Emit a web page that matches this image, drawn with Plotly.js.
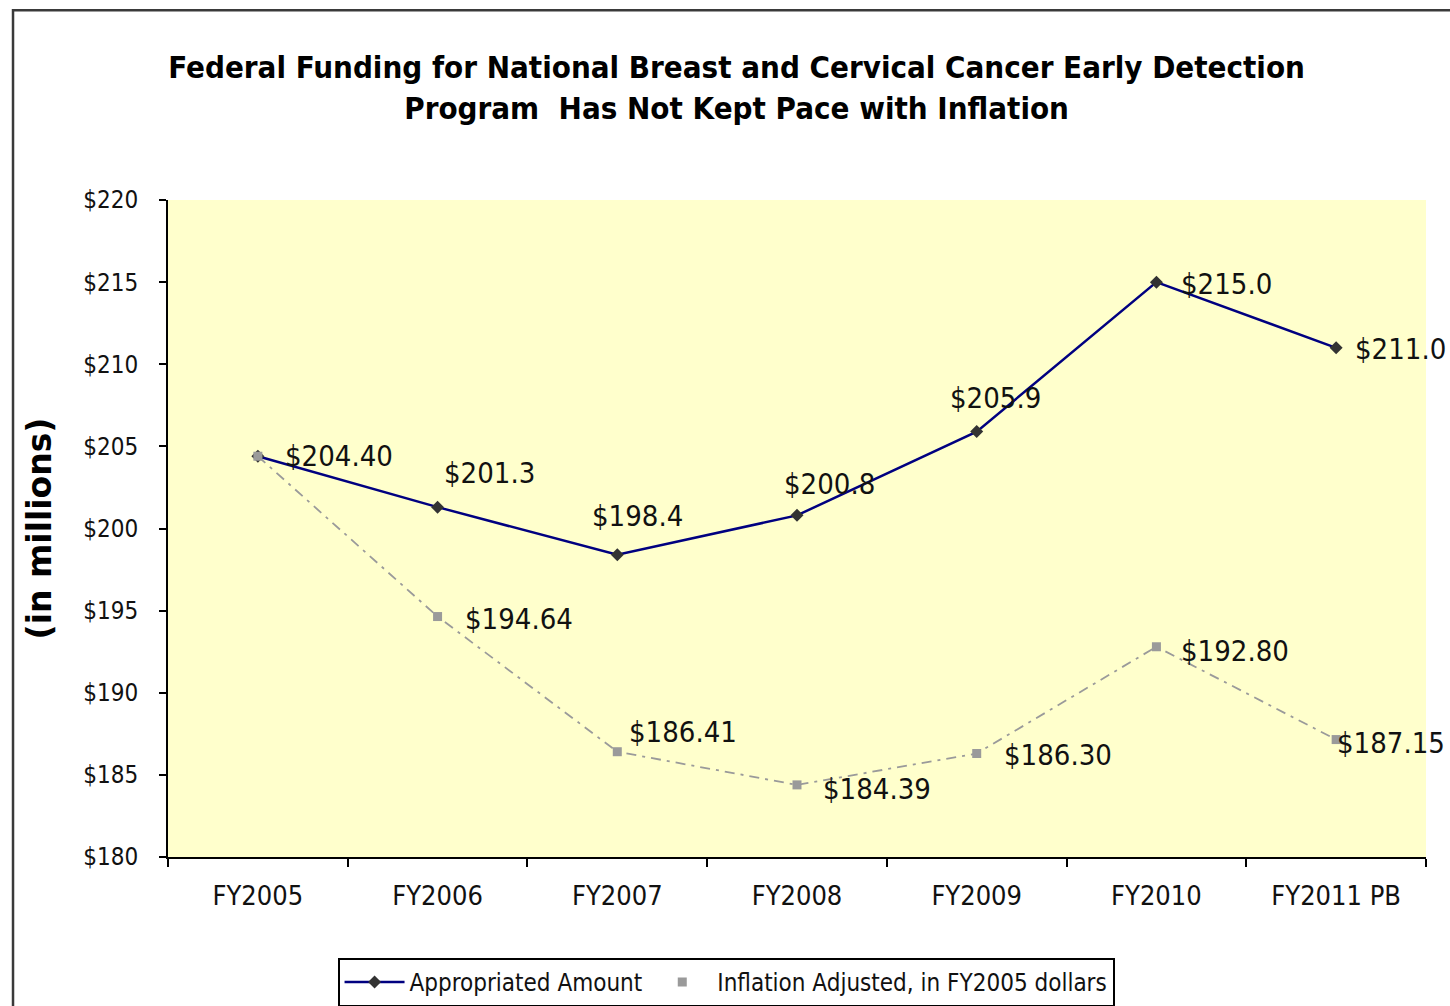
<!DOCTYPE html>
<html>
<head>
<meta charset="utf-8">
<script src="https://cdn.plot.ly/plotly-3.0.1.min.js"></script>
<style>
  html, body { margin: 0; padding: 0; background: #ffffff; }
  #chart { width: 1450px; height: 1006px; }
</style>
</head>
<body>
<div id="chart"></div>
<script>
// ---- Data ----
const categories = ['FY2005', 'FY2006', 'FY2007', 'FY2008', 'FY2009', 'FY2010', 'FY2011 PB'];
const appropriated = [204.40, 201.3, 198.4, 200.8, 205.9, 215.0, 211.0];
const inflationAdjusted = [204.40, 194.64, 186.41, 184.39, 186.30, 192.80, 187.15];
const appropriatedLabels = ['$204.40', '$201.3', '$198.4', '$200.8', '$205.9', '$215.0', '$211.0'];
const inflationLabels = ['', '$194.64', '$186.41', '$184.39', '$186.30', '$192.80', '$187.15'];
const seriesNames = ['Appropriated Amount', 'Inflation Adjusted, in FY2005 dollars'];

// ---- Label placement (pixels: [right, up]) ----
const appropriatedLabelShift = [[25, 0], [4, 34], [-27, 39], [-15, 31], [-29, 34], [23, -2], [17, -1]];
const inflationLabelShift = [[0, 0], [25, -2], [10, 20], [24, -4], [25, -1], [23, -4], [-1, -3]];

const NARROW = '"DejaVu Sans Condensed", "Liberation Sans Narrow", "Arial Narrow", sans-serif';
const labelFont = { family: NARROW, size: 29, color: '#111111' };

const traces = [
  {
    x: categories, y: appropriated, type: 'scatter', mode: 'lines+markers',
    name: seriesNames[0],
    line: { color: '#000080', width: 2.5 },
    marker: { symbol: 'diamond', size: 10, color: '#333333' },
    hoverinfo: 'x+y'
  },
  {
    x: categories, y: inflationAdjusted, type: 'scatter', mode: 'lines+markers',
    name: seriesNames[1], showlegend: false,
    line: { color: '#9a9a9a', width: 1.8, dash: '10px,6px,3px,6px' },
    marker: { symbol: 'square', size: 9, color: '#9a9a9a' },
    hoverinfo: 'x+y'
  },
  {
    // legend entry only (marker symbol, as in the original legend)
    x: [categories[0]], y: [null], type: 'scatter', mode: 'markers',
    name: seriesNames[1],
    marker: { symbol: 'square', size: 9, color: '#9a9a9a' },
    hoverinfo: 'skip'
  }
];

const annotations = [];
appropriated.forEach((v, i) => {
  annotations.push({
    x: categories[i], y: v, xref: 'x', yref: 'y', text: appropriatedLabels[i],
    showarrow: false, xanchor: 'left', yanchor: 'middle',
    xshift: appropriatedLabelShift[i][0], yshift: appropriatedLabelShift[i][1],
    font: labelFont
  });
});
inflationAdjusted.forEach((v, i) => {
  if (!inflationLabels[i]) return;
  annotations.push({
    x: categories[i], y: v, xref: 'x', yref: 'y', text: inflationLabels[i],
    showarrow: false, xanchor: 'left', yanchor: 'middle',
    xshift: inflationLabelShift[i][0], yshift: inflationLabelShift[i][1],
    font: labelFont
  });
});

const layout = {
  width: 1450, height: 1006,
  margin: { l: 168, r: 24, t: 200, b: 149, autoexpand: false },
  paper_bgcolor: '#ffffff',
  plot_bgcolor: '#FFFFCC',
  showlegend: true,
  title: {
    text: 'Federal Funding for National Breast and Cervical Cancer Early Detection<br>Program  Has Not Kept Pace with Inflation',
    font: { family: NARROW, size: 31, color: '#000000', weight: 'bold' },
    x: 0.508, xanchor: 'center', xref: 'container',
    y: 0.922, yanchor: 'top', yref: 'container'
  },
  xaxis: {
    type: 'category', range: [-0.5, 6.5],
    tickson: 'boundaries', ticks: 'outside', ticklen: 8, tickwidth: 2, tickcolor: '#000',
    showline: true, linecolor: '#000', linewidth: 2,
    showgrid: false, zeroline: false, fixedrange: true,
    ticklabelstandoff: 14,
    tickfont: { family: NARROW, size: 27, color: '#111111' }
  },
  yaxis: {
    range: [180, 220], dtick: 5, tick0: 180, tickprefix: '$',
    ticks: 'outside', ticklen: 7, tickwidth: 2, tickcolor: '#000',
    showline: true, linecolor: '#000', linewidth: 2,
    showgrid: false, zeroline: false, fixedrange: true,
    ticklabelstandoff: 16,
    tickfont: { family: NARROW, size: 24, color: '#111111' },
    automargin: false,
    title: {
      text: '(in millions)', standoff: 22,
      font: { family: '"DejaVu Sans", sans-serif', size: 33, color: '#000000', weight: 'bold' }
    }
  },
  legend: {
    orientation: 'h', x: 0.4436, xanchor: 'center', y: -0.1537, yanchor: 'top',
    bgcolor: '#ffffff', bordercolor: '#000000', borderwidth: 2,
    font: { family: NARROW, size: 24, color: '#111111' },
    itemwidth: 60, traceorder: 'normal'
  },
  annotations: annotations,
  shapes: [{
    type: 'rect', xref: 'paper', yref: 'paper',
    x0: -0.1232, x1: 1.2, y0: -0.6, y1: 1.289,
    line: { color: '#3a3a3a', width: 2.5 }, fillcolor: 'rgba(0,0,0,0)', layer: 'below'
  }]
};

Plotly.newPlot('chart', traces, layout, { displayModeBar: false, staticPlot: true });
</script>
</body>
</html>
